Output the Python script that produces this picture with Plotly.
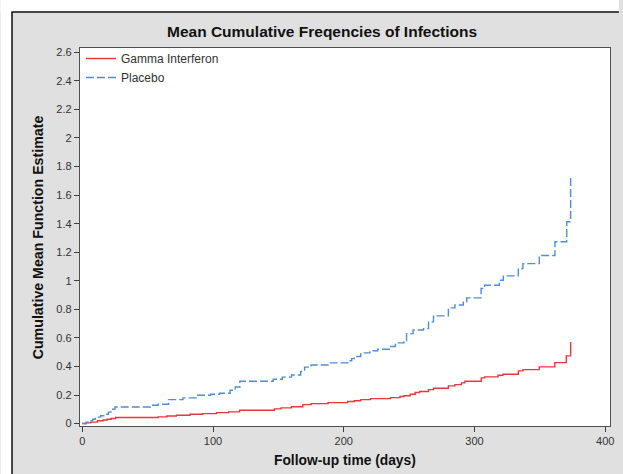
import plotly.graph_objects as go

# Placebo step function (time, cumulative mean)
placebo_t = [0, 3, 6, 8, 10, 14, 17, 20, 22, 25, 52, 58, 66, 77, 87, 98, 105, 113, 117, 120.5,
             146, 153, 160, 167, 170, 175, 188, 203, 206, 208, 213, 220, 226, 236, 239.5, 246,
             248, 253, 261, 264.8, 268.6, 280, 285, 291.4, 294, 305, 307.7, 319, 322, 333.5,
             337, 349.5, 361.5, 370.5, 373.5]
placebo_v = [0, 0.01, 0.02, 0.03, 0.045, 0.055, 0.065, 0.08, 0.1, 0.116, 0.128, 0.135, 0.168,
             0.18, 0.198, 0.205, 0.212, 0.233, 0.256, 0.296, 0.31, 0.325, 0.34, 0.365, 0.395,
             0.41, 0.425, 0.44, 0.455, 0.47, 0.495, 0.51, 0.52, 0.54, 0.565, 0.58, 0.63, 0.655,
             0.665, 0.712, 0.754, 0.81, 0.83, 0.852, 0.88, 0.946, 0.969, 1.004, 1.034, 1.086,
             1.12, 1.177, 1.273, 1.413, 1.72]

# Gamma Interferon step function
gamma_t = [0, 3, 6.5, 11.6, 16, 19, 22, 25.5, 58, 64.7, 72, 82.4, 92, 102.7, 112, 120.3, 147,
           152, 160, 168.7, 175, 188, 203, 208, 213, 220.5, 235.7, 243, 246, 250.8, 254.6, 258,
           264.8, 268.6, 280, 285, 290, 292.6, 305.2, 307.7, 318, 321.7, 333.5, 337, 349.5,
           361.4, 370.2, 373.5]
gamma_v = [0, 0.005, 0.01, 0.02, 0.025, 0.03, 0.036, 0.042, 0.047, 0.053, 0.058, 0.065, 0.07,
           0.077, 0.082, 0.093, 0.103, 0.11, 0.118, 0.133, 0.14, 0.147, 0.155, 0.16, 0.168,
           0.175, 0.182, 0.19, 0.195, 0.205, 0.218, 0.225, 0.238, 0.247, 0.264, 0.273, 0.285,
           0.296, 0.32, 0.327, 0.338, 0.345, 0.369, 0.378, 0.397, 0.427, 0.474, 0.572]

series_names = ["Gamma Interferon", "Placebo"]
title_text = "Mean Cumulative Freqencies of Infections"
x_title = "Follow-up time (days)"
y_title = "Cumulative Mean Function Estimate"

FONT = "Liberation Sans, Arial, sans-serif"
GRAY_BG = "#e0e0e0"

fig = go.Figure()
fig.add_trace(go.Scatter(x=gamma_t, y=gamma_v, mode="lines", name=series_names[0],
                         line=dict(color="#e8363c", width=1.4, shape="hv")))
fig.add_trace(go.Scatter(x=placebo_t, y=placebo_v, mode="lines", name=series_names[1],
                         line=dict(color="#4f8ed2", width=1.4, shape="hv", dash="8px,3px")))

W, H = 623, 474
L, R, T, B = 80, 9, 48, 48
pw, ph = W - L - R, H - T - B


def px_x(px):
    return (px - L) / pw


def px_y(py):
    return (H - B - py) / ph


fig.update_layout(
    width=W, height=H,
    margin=dict(l=L, r=R, t=T, b=B),
    paper_bgcolor=GRAY_BG,
    plot_bgcolor="white",
    font=dict(family=FONT, size=11, color="#333333"),
    showlegend=True,
    legend=dict(x=px_x(81), y=px_y(44), xanchor="left", yanchor="top",
                bgcolor="rgba(0,0,0,0)", font=dict(size=12, color="#333333"),
                tracegroupgap=0),
    xaxis=dict(range=[-1.75, 403.6], dtick=100, tick0=0, ticks="outside", ticklen=5,
               tickcolor="#404040", showline=True, linecolor="#505050", linewidth=1.3,
               mirror=True, showgrid=False, zeroline=False,
               tickfont=dict(size=11, color="#333333")),
    yaxis=dict(range=[-0.017, 2.63], dtick=0.2, tick0=0, ticks="outside", ticklen=5,
               tickcolor="#404040", showline=True, linecolor="#505050", linewidth=1.3,
               mirror=True, showgrid=False, zeroline=False,
               tickfont=dict(size=11, color="#333333")),
    annotations=[
        dict(text="<b>" + title_text + "</b>", x=px_x(323.5), y=px_y(31), xref="paper",
             yref="paper", xanchor="center", yanchor="middle", showarrow=False,
             font=dict(size=15.5, color="#111111", family=FONT)),
        dict(text="<b>" + x_title + "</b>", x=px_x(347), y=px_y(460), xref="paper",
             yref="paper", xanchor="center", yanchor="middle", showarrow=False,
             font=dict(size=13.8, color="#111111", family=FONT)),
        dict(text="<b>" + y_title + "</b>", x=px_x(38), y=0.5, xref="paper",
             yref="paper", xanchor="center", yanchor="middle", showarrow=False,
             textangle=-90, font=dict(size=14.2, color="#111111", family=FONT)),
    ],
    shapes=[
        dict(type="rect", xref="paper", yref="paper", x0=px_x(0), x1=px_x(W), y0=px_y(0),
             y1=px_y(11.5), fillcolor="white", line=dict(width=0), layer="below"),
        dict(type="rect", xref="paper", yref="paper", x0=px_x(0), x1=px_x(11), y0=px_y(0),
             y1=px_y(H), fillcolor="white", line=dict(width=0), layer="below"),
        dict(type="line", xref="paper", yref="paper", x0=px_x(11), x1=px_x(W), y0=px_y(12),
             y1=px_y(12), line=dict(color="#111111", width=1.5), layer="below"),
        dict(type="line", xref="paper", yref="paper", x0=px_x(11.5), x1=px_x(11.5),
             y0=px_y(12), y1=px_y(H), line=dict(color="#111111", width=1.5), layer="below"),
    ],
)

fig.write_html(
    "out.html",
    config={"displayModeBar": False},
    post_script="document.body.style.margin='0';document.body.style.padding='0';"
                "document.body.style.overflow='hidden';",
)
